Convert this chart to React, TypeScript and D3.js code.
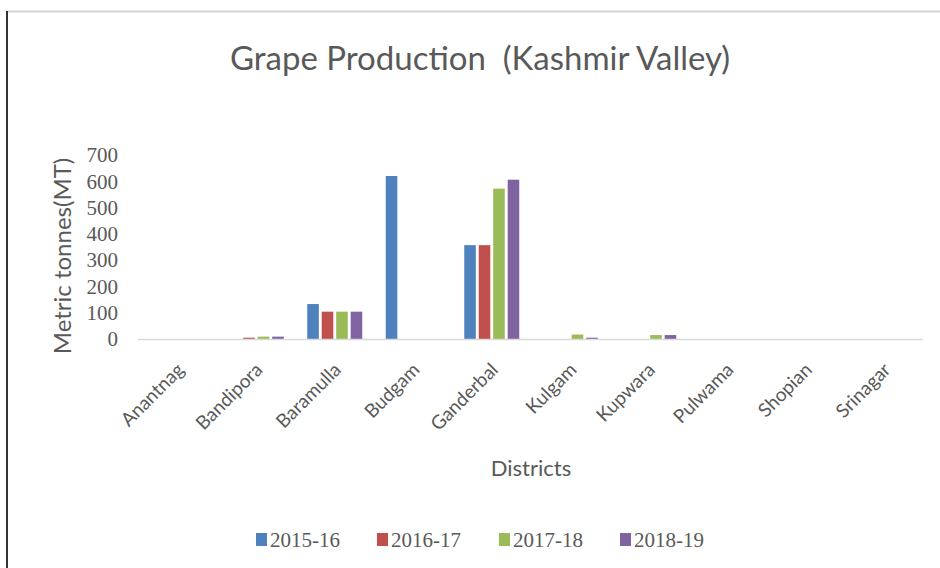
import React, { useEffect, useRef } from 'react';
import * as d3 from 'd3';

const districts = ['Anantnag', 'Bandipora', 'Baramulla', 'Budgam', 'Ganderbal', 'Kulgam', 'Kupwara', 'Pulwama', 'Shopian', 'Srinagar'];
const seasons = ['2015-16', '2016-17', '2017-18', '2018-19'];
const colors = ['#4F81BD', '#C0504D', '#9BBB59', '#8064A2'];

const v2015 = [0, 0, 133, 620, 357, 0, 0, 0, 0, 0];
const v2016 = [0, 5, 104, 0, 357, 0, 0, 0, 0, 0];
const v2017 = [0, 9, 104, 0, 572, 17, 15, 0, 0, 0];
const v2018 = [0, 9, 104, 0, 606, 5, 15, 0, 0, 0];
const yTicks = [0, 100, 200, 300, 400, 500, 600, 700];

const App: React.FC = () => {
    const svgRef = useRef<SVGSVGElement | null>(null);

    useEffect(() => {
        const width = 940;
        const height = 568;
        const margin = { top: 155, right: 17, bottom: 229, left: 138 };
        const series = [v2015, v2016, v2017, v2018];
        const sans = 'Lato, "Open Sans", sans-serif';

        const svg = d3.select(svgRef.current);
        svg.selectAll('*').remove();

        // frame
        svg.append('line').attr('x1', 6).attr('x2', width).attr('y1', 11.5).attr('y2', 11.5)
            .attr('stroke', '#d4d4d4').attr('stroke-width', 2);
        svg.append('line').attr('x1', 7).attr('x2', 7).attr('y1', 11).attr('y2', height)
            .attr('stroke', '#333').attr('stroke-width', 2);

        const x = d3.scaleBand().domain(districts).range([margin.left, width - margin.right]);
        const x1 = d3.scaleBand().domain(seasons).range([0, 55]).paddingInner(0.2);
        const y = d3.scaleLinear().domain([0, 700]).range([height - margin.bottom, margin.top]);

        // title
        svg.append('text').attr('x', 480).attr('y', 70).attr('text-anchor', 'middle')
            .style('white-space', 'pre')
            .attr('font-family', sans).attr('font-size', 33).attr('fill', '#595959')
            .text('Grape Production  (Kashmir Valley)');

        // y ticks
        svg.append('g').selectAll('text').data(yTicks).join('text')
            .attr('x', 118).attr('y', d => y(d)).attr('dy', '0.35em').attr('text-anchor', 'end')
            .attr('font-family', '"Liberation Serif", serif').attr('font-size', 21).attr('fill', '#595959')
            .text(d => d);

        // y title
        svg.append('text').attr('transform', `translate(71,256) rotate(-90)`)
            .attr('text-anchor', 'middle').attr('font-family', sans)
            .attr('font-size', 24).attr('fill', '#595959').text('Metric tonnes(MT)');

        // bars
        const groups = svg.append('g').selectAll('g').data(districts).join('g')
            .attr('transform', d => `translate(${(x(d) as number) + x.bandwidth() / 2 - 27},0)`);
        groups.selectAll('rect')
            .data((_, i) => series.map((s, j) => ({ key: seasons[j], value: s[i], color: colors[j] })))
            .join('rect')
            .attr('x', d => x1(d.key) as number)
            .attr('width', x1.bandwidth())
            .attr('y', d => y(d.value))
            .attr('height', d => y(0) - y(d.value))
            .attr('fill', d => d.color);

        // baseline
        svg.append('line').attr('x1', margin.left).attr('x2', width - margin.right)
            .attr('y1', y(0) + 0.5).attr('y2', y(0) + 0.5).attr('stroke', '#d9d9d9').attr('stroke-width', 1.5);

        // x labels
        svg.append('g').selectAll('text').data(districts).join('text')
            .attr('transform', d => `translate(${(x(d) as number) + x.bandwidth() / 2 + 8},${y(0) + 32}) rotate(-45)`)
            .attr('text-anchor', 'end').attr('font-family', sans)
            .attr('font-size', 19).attr('fill', '#595959').text(d => d);

        // x title
        svg.append('text').attr('x', 531).attr('y', 476).attr('text-anchor', 'middle')
            .attr('font-family', sans).attr('font-size', 22).attr('fill', '#595959')
            .text('Districts');

        // legend
        const legendX = [256, 377, 499, 620];
        const legend = svg.append('g').selectAll('g').data(seasons).join('g')
            .attr('transform', (_, i) => `translate(${legendX[i]},540)`);
        legend.append('rect').attr('x', 0).attr('y', -7).attr('width', 11).attr('height', 13)
            .attr('fill', (_, i) => colors[i]);
        legend.append('text').attr('x', 14).attr('y', 0).attr('dy', '0.35em')
            .attr('font-family', '"Liberation Serif", serif').attr('font-size', 21).attr('fill', '#595959')
            .text(d => d);
    }, []);

    return <svg ref={svgRef} width={940} height={568} style={{ position: 'absolute', left: 0, top: 0, background: '#fff' }}></svg>;
};

export default App;
